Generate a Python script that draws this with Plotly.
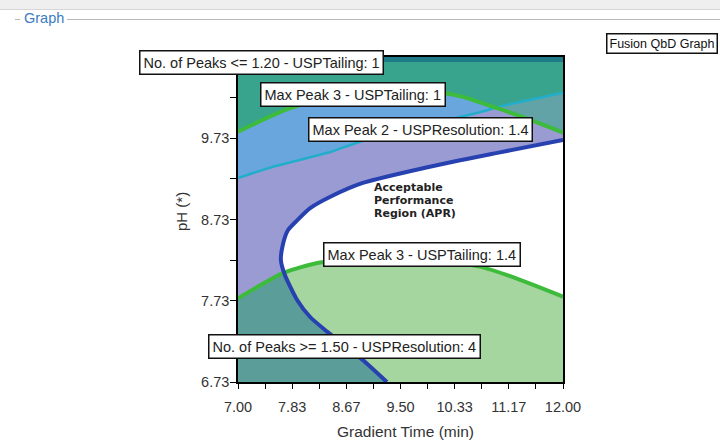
import numpy as np
import plotly.graph_objects as go

# ---- contour data: gradient time (min) vs pH ----
# Max Peak 2 - USPResolution 1.4 (boundary of the acceptable region)
apr_time = [12.00, 10.99, 9.95, 8.92, 8.42, 8.11, 7.91, 7.77, 7.69, 7.66, 7.72, 7.91, 8.11, 8.37, 8.92, 9.29]
apr_ph = [9.71, 9.55, 9.38, 9.18, 9.01, 8.87, 8.72, 8.60, 8.42, 8.23, 8.05, 7.74, 7.53, 7.35, 7.00, 6.73]

# Max Peak 3 - USPTailing 1
tail1_time = [7.00, 7.80, 9.03, 10.15, 10.46, 10.99, 11.49, 12.00]
tail1_ph = [9.81, 10.10, 10.35, 10.29, 10.24, 10.10, 9.96, 9.80]

# Max Peak 3 - USPTailing 1.4
tail14_time = [7.00, 7.69, 8.26, 9.18, 10.11, 10.72, 11.23, 12.00]
tail14_ph = [7.76, 8.07, 8.20, 8.24, 8.21, 8.15, 8.02, 7.78]

# No. of Peaks contour
peaks_time = [7.00, 7.54, 8.42, 8.92, 10.72, 11.03, 12.00]
peaks_ph = [9.24, 9.38, 9.56, 9.70, 10.05, 10.12, 10.29]

# No. of Peaks <= 1.20 band along the top
band_ph = 10.67

x_tick_labels = ["7.00", "7.83", "8.67", "9.50", "10.33", "11.17", "12.00"]
y_tick_labels = ["6.73", "7.73", "8.73", "9.73"]

X0, X1 = 7.0, 12.0
Y0, Y1 = 6.73, 10.73
E = 0.5  # polygons run past the axes and are clipped


def crossing(ax, ay, bx, by):
    """First intersection between two polylines: (seg_a, seg_b, x, y)."""
    for i in range(len(ax) - 1):
        p = np.array([ax[i], ay[i]])
        r = np.array([ax[i + 1] - ax[i], ay[i + 1] - ay[i]])
        for j in range(len(bx) - 1):
            q = np.array([bx[j], by[j]])
            s = np.array([bx[j + 1] - bx[j], by[j + 1] - by[j]])
            den = r[0] * s[1] - r[1] * s[0]
            if abs(den) < 1e-12:
                continue
            d = q - p
            t = (d[0] * s[1] - d[1] * s[0]) / den
            u = (d[0] * r[1] - d[1] * r[0]) / den
            if 0 <= t <= 1 and 0 <= u <= 1:
                pt = p + t * r
                return i, j, float(pt[0]), float(pt[1])
    return None


def above(cx, cy):
    xs = [X0 - E] + list(cx) + [X1 + E, X1 + E, X0 - E]
    ys = [cy[0]] + list(cy) + [cy[-1], Y1 + E, Y1 + E]
    return xs, ys


def below(cx, cy):
    xs = [X0 - E] + list(cx) + [X1 + E, X1 + E, X0 - E]
    ys = [cy[0]] + list(cy) + [cy[-1], Y0 - E, Y0 - E]
    return xs, ys


fig = go.Figure()


def area(xs, ys, color):
    fig.add_trace(go.Scatter(x=xs, y=ys, mode="none", fill="toself",
                             fillcolor=color, hoverinfo="skip", showlegend=False))


# region outside the acceptable performance region
out_x = [X1 + E] + apr_time + [apr_time[-1], X0 - E, X0 - E, X1 + E]
out_y = [apr_ph[0]] + apr_ph + [Y0 - E, Y0 - E, Y1 + E, Y1 + E]
area(out_x, out_y, "#9a9bd3")

# above the peak-count contour
area(*above(peaks_time, peaks_ph), "#6aa6de")

# above tailing 1
area(*above(tail1_time, tail1_ph), "#61a3a6")

# above both tailing 1 and the peak-count contour
i, j, cx, cy = crossing(tail1_time, tail1_ph, peaks_time, peaks_ph)
env_x = tail1_time[:i + 1] + [cx] + peaks_time[j + 1:]
env_y = tail1_ph[:i + 1] + [cy] + peaks_ph[j + 1:]
area(*above(env_x, env_y), "#39a48e")

# top band
area(*above([X0, X1], [band_ph, band_ph]), "#1f7b86")

# below tailing 1.4
area(*below(tail14_time, tail14_ph), "#a6d6a0")

# below tailing 1.4 and outside the acceptable region
i, j, cx, cy = crossing(tail14_time, tail14_ph, apr_time, apr_ph)
bl_x = [X0 - E] + tail14_time[:i + 1] + [cx] + apr_time[j + 1:] + [apr_time[-1], X0 - E]
bl_y = [tail14_ph[0]] + tail14_ph[:i + 1] + [cy] + apr_ph[j + 1:] + [Y0 - E, Y0 - E]
area(bl_x, bl_y, "#5a9d99")


def contour(xs, ys, color, width):
    fig.add_trace(go.Scatter(x=xs, y=ys, mode="lines",
                             line=dict(color=color, width=width, shape="spline", smoothing=0.6),
                             hoverinfo="skip", showlegend=False))


contour(peaks_time, peaks_ph, "#22aecb", 2.5)
contour(tail1_time, tail1_ph, "#3dbb3b", 4)
contour(tail14_time, tail14_ph, "#3dbb3b", 4)
contour(apr_time, apr_ph, "#2841b0", 4)

# ---- layout ----
L, T, W, H = 238, 57, 325, 325


def px(x):
    return (x - L) / W


def py(y):
    return (T + H - y) / H


BASE = "Liberation Sans, Arial, sans-serif"

fig.update_layout(
    width=720, height=446,
    margin=dict(l=L, r=720 - L - W, t=T, b=446 - T - H, autoexpand=False),
    paper_bgcolor="white", plot_bgcolor="white",
    showlegend=False,
    font=dict(family=BASE, color="#333333"),
)

fig.update_xaxes(
    range=[X0, X1], tickvals=np.linspace(X0, X1, len(x_tick_labels)), ticktext=x_tick_labels,
    ticks="outside", ticklen=5, tickwidth=1.2, tickcolor="black",
    minor=dict(tickvals=np.linspace(X0, X1, 2 * len(x_tick_labels) - 1), ticks="outside",
               ticklen=5, tickwidth=1.2, tickcolor="black"),
    showline=True, linecolor="black", linewidth=1.5, mirror=True,
    showgrid=False, zeroline=False, ticklabelstandoff=6,
    tickfont=dict(size=14.5, color="#333333", family=BASE),
)
fig.update_yaxes(
    range=[Y0, Y1], tickvals=np.arange(len(y_tick_labels)) * 1.0 + Y0, ticktext=y_tick_labels,
    ticks="outside", ticklen=6, tickwidth=1.2, tickcolor="black",
    minor=dict(tickvals=np.linspace(Y0, Y1, 9), ticks="outside",
               ticklen=6, tickwidth=1.2, tickcolor="black"),
    showline=True, linecolor="black", linewidth=1.5, mirror=True,
    showgrid=False, zeroline=False, ticklabelstandoff=-2,
    tickfont=dict(size=14.5, color="#333333", family=BASE),
)

# boxed contour labels
labels = [
    ("No. of Peaks <= 1.20 - USPTailing: 1", 7.362, 10.662),
    ("Max Peak 3 - USPTailing: 1", 8.774, 10.272),
    ("Max Peak 2 - USPResolution: 1.4", 9.80, 9.841),
    ("Max Peak 3 - USPTailing: 1.4", 9.826, 8.303),
    ("No. of Peaks >= 1.50 - USPResolution: 4", 8.646, 7.164),
]
for text, x, y in labels:
    fig.add_annotation(x=x, y=y, xref="x", yref="y", text=text, showarrow=False,
                       xanchor="center", yanchor="middle",
                       font=dict(size=14.5, color="#222222", family=BASE),
                       bgcolor="white", bordercolor="#111111", borderwidth=1.5, borderpad=3)

# region caption
for text, y in [("Acceptable", 9.118), ("Performance", 8.964), ("Region (APR)", 8.810)]:
    fig.add_annotation(x=9.062, y=y, xref="x", yref="y", text="<b>%s</b>" % text,
                       showarrow=False, xanchor="left", yanchor="middle",
                       font=dict(size=11, color="#222222", family="DejaVu Sans, Verdana, sans-serif"))

# axis titles
fig.add_annotation(x=px(181), y=py(212), xref="paper", yref="paper", text="pH (*)",
                   textangle=-90, showarrow=False, xanchor="center", yanchor="middle",
                   font=dict(size=15, color="#333333"))
fig.add_annotation(x=px(405), y=py(431), xref="paper", yref="paper", text="Gradient Time (min)",
                   showarrow=False, xanchor="center", yanchor="middle",
                   font=dict(size=15.5, color="#333333"))

# window chrome: group box header and graph tag
fig.add_shape(type="rect", xref="paper", yref="paper", x0=px(0), x1=px(720), y0=py(0), y1=py(9),
              fillcolor="#efefef", line=dict(width=0), layer="above")
fig.add_shape(type="line", xref="paper", yref="paper", x0=px(0), x1=px(720), y0=py(9.5), y1=py(9.5),
              line=dict(color="#d6d6d6", width=1), layer="above")
fig.add_shape(type="line", xref="paper", yref="paper", x0=px(67), x1=px(720), y0=py(19.5), y1=py(19.5),
              line=dict(color="#b8b8b8", width=1), layer="above")
fig.add_shape(type="line", xref="paper", yref="paper", x0=px(15), x1=px(20), y0=py(19.5), y1=py(19.5),
              line=dict(color="#b8b8b8", width=1), layer="above")
fig.add_annotation(x=px(22), y=py(18), xref="paper", yref="paper", text="Graph",
                   xanchor="left", yanchor="middle", showarrow=False,
                   font=dict(size=14.5, color="#3a7cc2", family=BASE))
fig.add_annotation(x=px(606), y=py(43.5), xref="paper", yref="paper", text="Fusion QbD Graph",
                   xanchor="left", yanchor="middle", showarrow=False,
                   font=dict(size=12.5, color="#111111", family=BASE),
                   bgcolor="white", bordercolor="#111111", borderwidth=1.5, borderpad=2)

fig.write_html("out.html")
